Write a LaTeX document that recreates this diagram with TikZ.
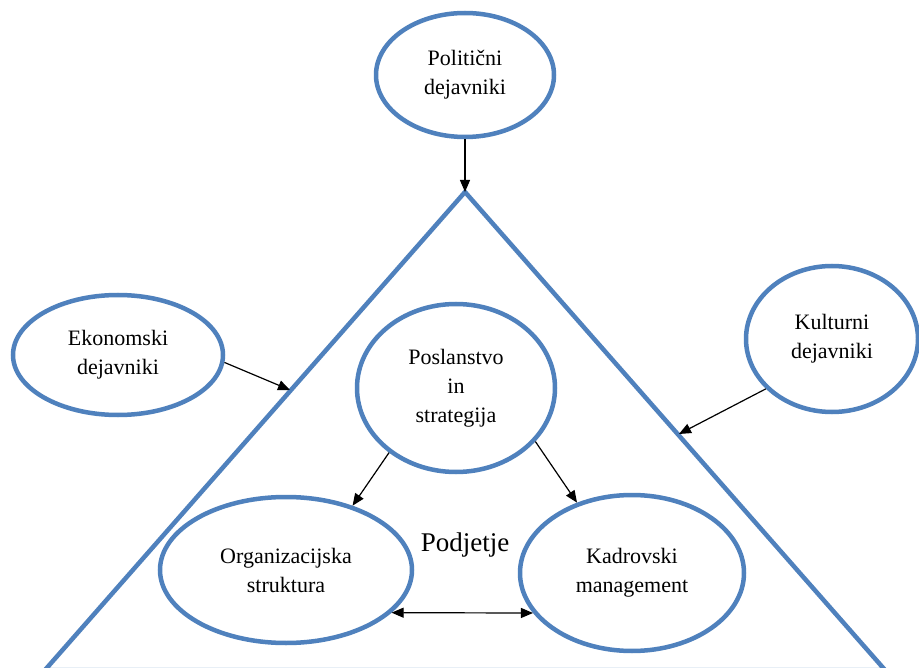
\documentclass[tikz,border=0pt]{standalone}
\usepackage{fontspec}
\setmainfont{Liberation Serif}
\usetikzlibrary{shapes.geometric,arrows.meta}
\definecolor{ringblue}{RGB}{79,129,189}
\tikzset{
  ring/.style={ellipse, draw=ringblue, line width=4.5pt, inner sep=0pt, align=center,
    font=\fontsize{22}{29}\selectfont},
  link/.style={draw=black, line width=1.2pt, -{Triangle[length=12pt,width=10pt]}},
  biglink/.style={draw=black, line width=1.2pt, {Triangle[length=12pt,width=10pt]}-{Triangle[length=12pt,width=10pt]}}
}
\begin{document}
\begin{tikzpicture}[x=1pt,y=-1pt]
\clip (0,0) rectangle (919,668);
\fill[white] (0,0) rectangle (919,668);
% triangle
\coordinate (apex) at (465,192);
\coordinate (bl) at (45,670);
\coordinate (br) at (885,670);
\draw[ringblue, line width=4.5pt] (apex) -- (bl) -- (br) -- cycle;
\coordinate (lefthit) at (290,390);
\coordinate (righthit) at (679,434);
% nodes
\node[ring, minimum width=178pt, minimum height=124pt] (pol) at (465,75) {Politični\\dejavniki};
\node[ring, minimum width=210pt, minimum height=120pt] (eko) at (118,355) {Ekonomski\\dejavniki};
\node[ring, minimum width=172pt, minimum height=146pt] (kul) at (832,339) {Kulturni\\dejavniki};
\node[ring, minimum width=198pt, minimum height=168pt] (pos) at (456,388) {Poslanstvo\\in\\strategija};
\node[ring, minimum width=252pt, minimum height=146pt] (org) at (286,570) {Organizacijska\\struktura};
\node[ring, minimum width=224pt, minimum height=156pt] (kad) at (632,573) {Kadrovski\\management};
\node[font=\fontsize{27}{32}\selectfont] (pod) at (465,545) {Podjetje};
% connectors
\draw[link] (pol.south) -- (apex);
\draw[link] (eko.-4) -- (lefthit);
\draw[link] (kul.217) -- (righthit);
\draw[link] (pos.224) -- (org.44);
\draw[link] (pos.326) -- (kad.128);
\draw[biglink] (org.338) -- (kad.202);
\end{tikzpicture}
\end{document}
